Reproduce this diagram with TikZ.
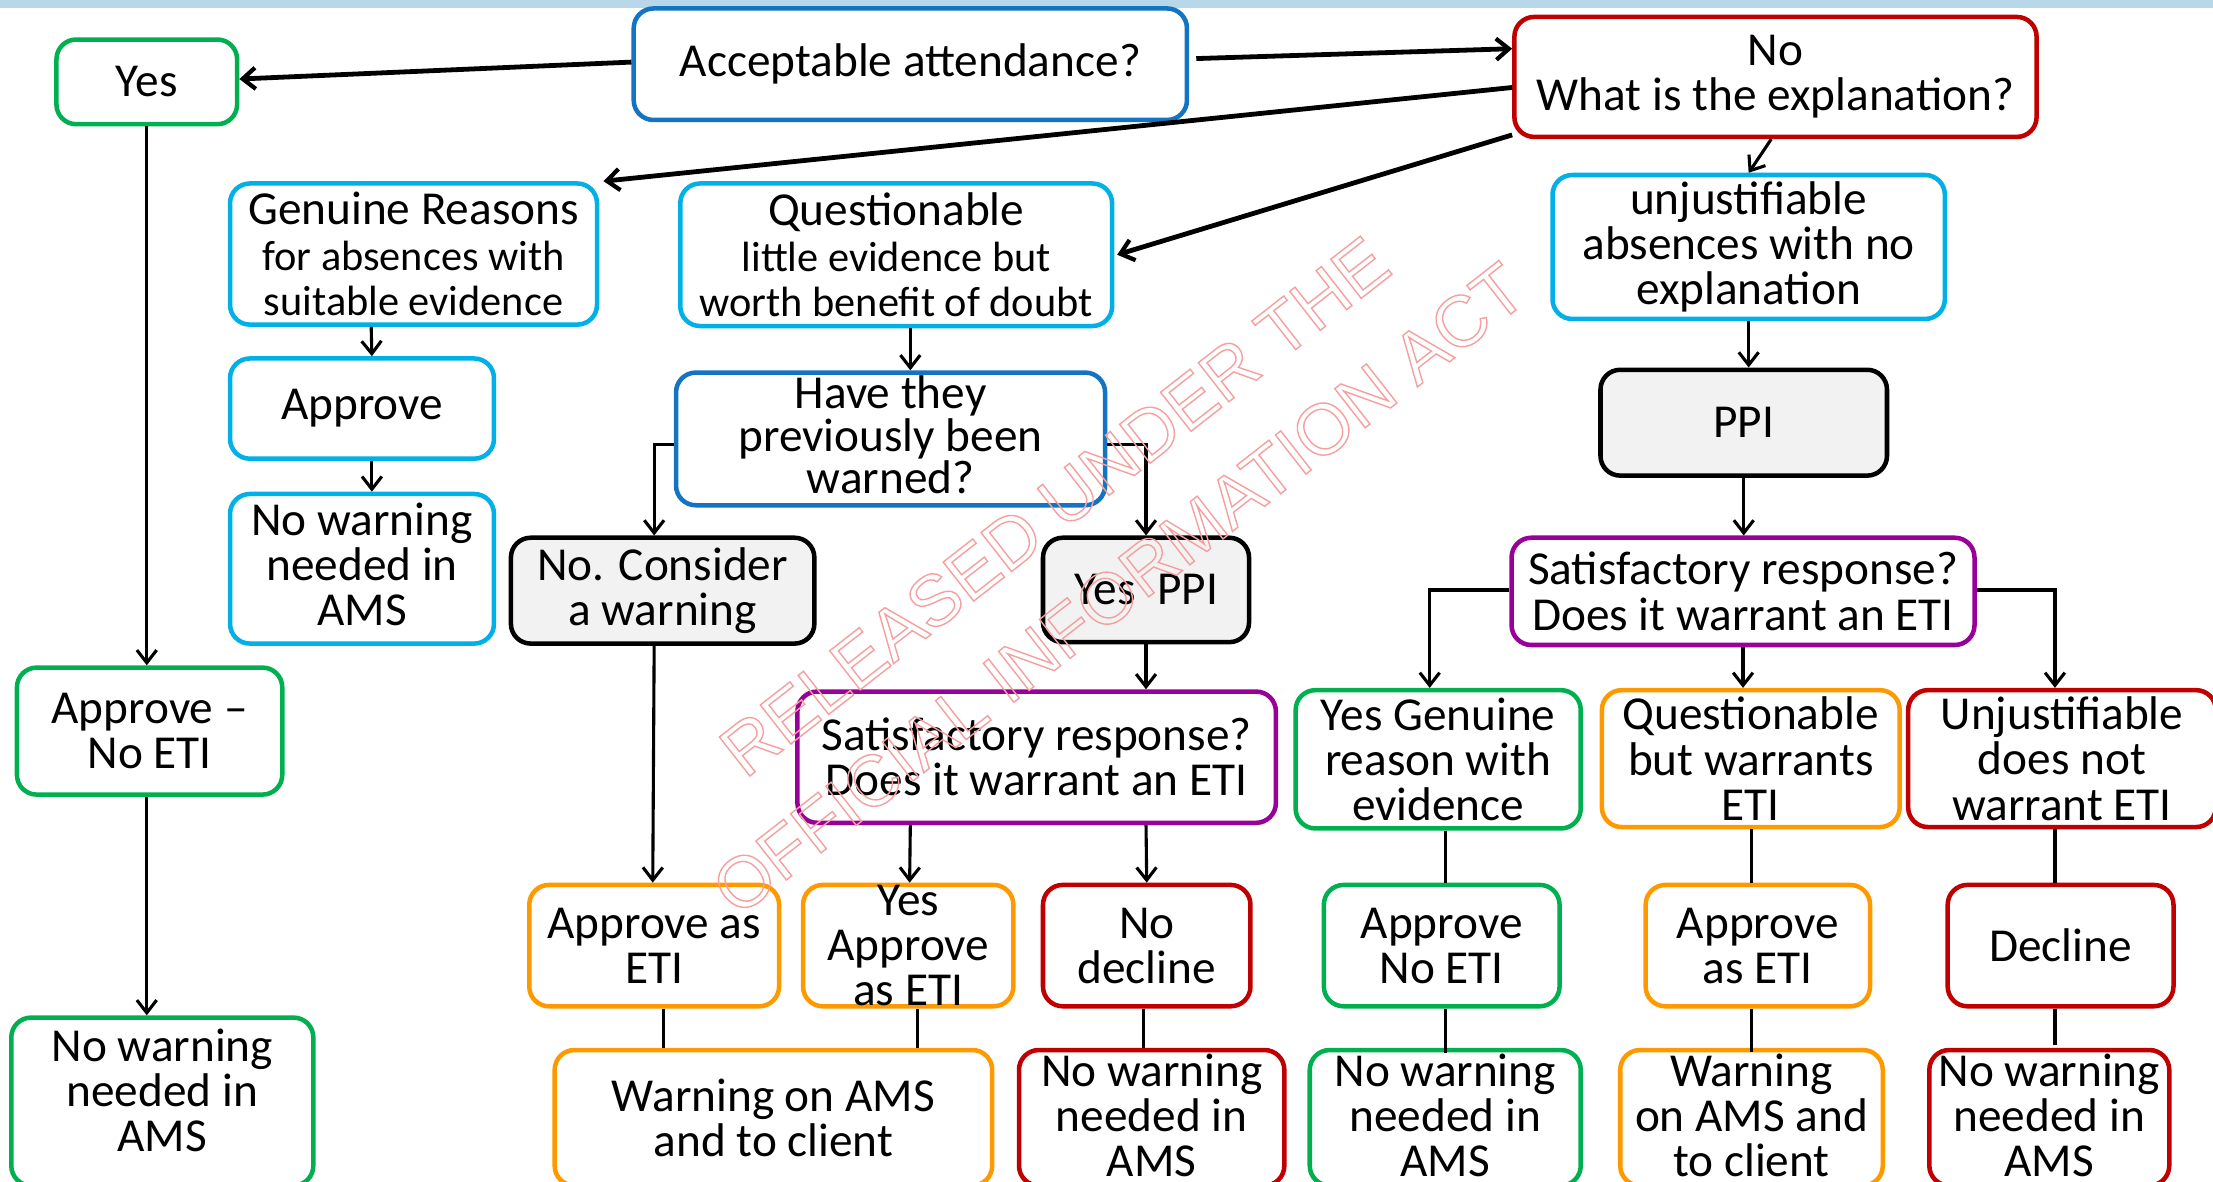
\documentclass[tikz,border=0pt]{standalone}
\usepackage{fontspec}
\setmainfont{Carlito}
\newfontfamily\wmfont{Liberation Sans}
\usetikzlibrary{arrows.meta,calc}
\definecolor{cgreen}{HTML}{00B050}
\definecolor{cblue}{HTML}{1474C4}
\definecolor{cred}{HTML}{C00000}
\definecolor{ccyan}{HTML}{00B0E6}
\definecolor{cpurple}{HTML}{990099}
\definecolor{corange}{HTML}{FF9900}
\definecolor{cgrayfill}{HTML}{F2F2F2}
\definecolor{cstrip}{HTML}{B8D8EA}
\definecolor{wmred}{HTML}{F4A0A0}
\newcommand{\smallline}{\fontsize{30}{31}\selectfont}
\newcommand{\outlineon}{\special{pdf:literal direct 1 Tr 1.0 w}}
\newcommand{\outlineoff}{\special{pdf:literal direct 0 Tr}}
\begin{document}
\begin{tikzpicture}[x=1pt,y=-1pt,
  box/.style={draw=#1, line width=3.2pt, rounded corners=14pt, fill=white,
    align=center, inner sep=0pt, font=\fontsize{33.5}{32}\selectfont},
  graybox/.style={box=black, fill=cgrayfill},
  thickarr/.style={line width=3.4pt, -{Straight Barb[length=9pt,width=15pt,line width=3pt]}},
  arr/.style={line width=2.2pt, -{Straight Barb[length=9pt,width=14pt,line width=2.2pt]}},
  ln/.style={line width=2.2pt}
]
\useasboundingbox (0,0) rectangle (1568,837);
\clip (0,0) rectangle (1568,837);
\fill[cstrip] (0,0) rectangle (1568,6);

% top row
\node[box=cgreen, minimum width=128pt, minimum height=60pt] (yes) at (104,58) {Yes};
\node[box=cblue, minimum width=392pt, minimum height=79pt] (acc) at (645,45.5) {Acceptable attendance?};
\node[box=cred, minimum width=370pt, minimum height=85pt] (no) at (1258,54.5) {No\\What is the explanation?};

% second row
\node[box=ccyan, minimum width=260pt, minimum height=100pt] (gen) at (293,180) {Genuine Reasons\\\smallline for absences with\\\smallline suitable evidence};
\node[box=ccyan, minimum width=306pt, minimum height=101pt] (ques) at (635,180.5) {Questionable\\\smallline little evidence but\\\smallline worth benefit of doubt};
\node[box=ccyan, minimum width=278pt, minimum height=102pt] (unj) at (1239,175) {unjustifiable\\absences with no\\explanation};

% left column
\node[box=ccyan, minimum width=187pt, minimum height=71pt] (appr) at (256.5,289.5) {Approve};
\node[box=ccyan, minimum width=187pt, minimum height=106pt, text depth=6pt] (nw1) at (256.5,403) {No warning\\needed in\\AMS};
\node[box=cgreen, minimum width=188pt, minimum height=90pt] (anoeti) at (106,518) {Approve --\\No ETI};
\node[box=cgreen, minimum width=214pt, minimum height=119pt, text depth=16pt] (nw2) at (115,780.5) {No warning\\needed in\\AMS};

% middle
\node[box=cblue, minimum width=304pt, minimum height=94pt, text depth=6pt, font=\fontsize{33.5}{30}\selectfont] (have) at (631,311) {Have they\\previously been\\warned?};
\node[graybox, minimum width=215pt, minimum height=75pt] (noc) at (469.5,418.5) {No. Consider\\a warning};
\node[graybox, minimum width=146pt, minimum height=74pt] (yppi) at (812,418) {Yes~~PPI};
\node[box=cpurple, minimum width=339pt, minimum height=93pt] (satM) at (734.5,536.5) {Satisfactory response?\\Does it warrant an ETI};
\node[box=corange, minimum width=177pt, minimum height=86pt] (aeti1) at (463.5,670) {Approve as\\ETI};
\node[box=corange, minimum width=149pt, minimum height=86pt] (yaeti) at (643.5,670) {Yes\\Approve\\as ETI};
\node[box=cred, minimum width=147pt, minimum height=86pt] (nodec) at (812.5,670) {No\\decline};
\node[box=corange, minimum width=310pt, minimum height=96pt] (warn1) at (548,792) {Warning on AMS\\and to client};
\node[box=cred, minimum width=188pt, minimum height=96pt, text depth=4pt] (nw3) at (816,792) {No warning\\needed in\\AMS};

% right
\node[graybox, minimum width=203pt, minimum height=75pt] (ppi) at (1235.5,299.5) {PPI};
\node[box=cpurple, minimum width=328pt, minimum height=76pt] (satR) at (1235,419) {Satisfactory response?\\Does it warrant an ETI};
\node[box=cgreen, minimum width=202pt, minimum height=98pt] (ygen) at (1019,538) {Yes Genuine\\reason with\\evidence};
\node[box=corange, minimum width=211pt, minimum height=97pt] (qbw) at (1240.5,537.5) {Questionable\\but warrants\\ETI};
\node[box=cred, minimum width=218pt, minimum height=97pt] (ujd) at (1461,537.5) {Unjustifiable\\does not\\warrant ETI};
\node[box=cgreen, minimum width=167pt, minimum height=86pt] (anoeti2) at (1021.5,670) {Approve\\No ETI};
\node[box=corange, minimum width=159pt, minimum height=86pt] (aeti2) at (1245.5,670) {Approve\\as ETI};
\node[box=cred, minimum width=160pt, minimum height=86pt] (decl) at (1460,670) {Decline};
\node[box=cgreen, minimum width=192pt, minimum height=96pt, text depth=4pt] (nw4) at (1024,792) {No warning\\needed in\\AMS};
\node[box=corange, minimum width=186pt, minimum height=96pt, text depth=4pt] (warn2) at (1241,792) {Warning\\on AMS and\\to client};
\node[box=cred, minimum width=170pt, minimum height=96pt, text depth=4pt] (nw5) at (1452,792) {No warning\\needed in\\AMS};

% thick top connectors
\draw[thickarr] ([yshift=1.5pt]acc.west) -- ([yshift=2pt]yes.east);
\draw[thickarr] ([shift={(5,-4)}]acc.east) -- ([yshift=20pt]no.west);
\draw[thickarr] ([yshift=-7.5pt]no.west) -- ([xshift=3pt]gen.north east);
\draw[thickarr] ([yshift=3pt]no.south west) -- ([xshift=2pt]ques.east);
\draw[arr] ([xshift=-3pt]no.south) -- (unj.north);

% left column
\draw[arr] (yes.south) -- (yes.south |- anoeti.north);
\draw[arr] ([xshift=-2pt]anoeti.south) -- ([xshift=-11pt]nw2.north);
\draw[arr] ([xshift=-30pt]gen.south) -- ([xshift=7pt]appr.north);
\draw[arr] ([xshift=7pt]appr.south) -- ([xshift=7pt]nw1.north);

% middle
\draw[arr] ([xshift=10pt]ques.south) -- ([xshift=14pt]have.north);
\draw[arr] ([yshift=-4pt]have.west) -| ([xshift=-6pt]noc.north);
\draw[arr] ([yshift=-4pt]have.east) -| (yppi.north);
\draw[arr] ([xshift=-6pt]noc.south) -- ([xshift=-1pt]aeti1.north);
\draw[arr] (yppi.south) -- ([xshift=77.5pt]satM.north);
\draw[arr] ([xshift=-89.5pt]satM.south) -- ([xshift=1pt]yaeti.north);
\draw[arr] ([xshift=77.5pt]satM.south) -- (nodec.north);
\draw[ln] ([xshift=6.5pt]aeti1.south) -- ([xshift=-78pt]warn1.north);
\draw[ln] ([xshift=6.5pt]yaeti.south) -- ([xshift=102pt]warn1.north);
\draw[ln] ([xshift=-2.5pt]nodec.south) -- ([xshift=-6pt]nw3.north);

% right
\draw[arr] (unj.south) -- (unj.south |- ppi.north);
\draw[arr] (ppi.south) -- (ppi.south |- satR.north);
\draw[arr] ([yshift=1pt]satR.west) -| ([xshift=-6pt]ygen.north);
\draw[arr] (satR.south) -- (satR.south |- qbw.north);
\draw[arr] ([yshift=1pt]satR.east) -| ([xshift=-5pt]ujd.north);
\draw[ln] ([xshift=5pt]ygen.south) -- ([xshift=2.5pt]anoeti2.north);
\draw[ln] ([xshift=2.5pt]anoeti2.south) -- ([yshift=-4pt]nw4.north);
\draw[ln] ([xshift=0.5pt]qbw.south) -- ([xshift=-4.5pt]aeti2.north);
\draw[ln] ([xshift=-4.5pt]aeti2.south) -- ([yshift=-3pt]warn2.north);
\draw[ln] ([xshift=-5pt]ujd.south) -- ([xshift=-4pt]decl.north);
\draw[ln] ([xshift=-4pt]decl.south) -- ([shift={(4,-2)}]nw5.north);

% watermark
\node[rotate=38, text=wmred, align=center, inner sep=0pt,
  font=\wmfont\fontsize{51}{74}\selectfont] (wm) at (770,388)
  {\outlineon RELEASED UNDER THE\\\outlineon OFFICIAL INFORMATION ACT\outlineoff};
\end{tikzpicture}
\end{document}
